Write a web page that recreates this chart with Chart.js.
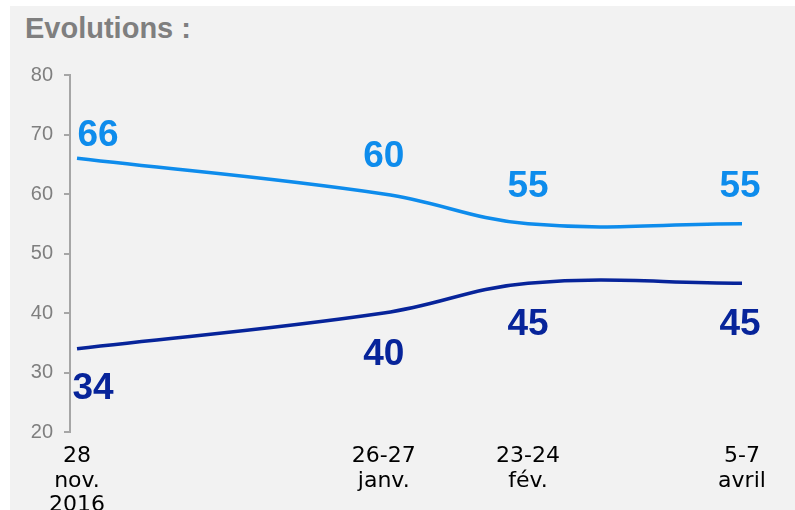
<!DOCTYPE html>
<html>
<head>
<meta charset="utf-8">
<script src="https://cdn.jsdelivr.net/npm/chart.js@4"></script>
<style>
  body { margin: 0; background: #fff; width: 795px; height: 510px; overflow: hidden; }
  #panel { position: absolute; left: 10px; top: 6px; width: 785px; height: 510px; background: #f2f2f2; overflow: hidden; }
  #title { position: absolute; left: 15px; top: 6px; font: bold 29px "Liberation Sans", Arial, sans-serif; color: #7f7f7f; }
  #chart { position: absolute; left: 0; top: 0; }
</style>
</head>
<body>
<div id="panel">
  <div id="title">Evolutions :</div>
  <canvas id="chart" width="785" height="504"></canvas>
</div>
<script>
// survey waves: labels and days since 28 nov. 2016
const waveLabels = [['28', 'nov.', '2016'], ['26-27', 'janv.'], ['23-24', 'fév.'], ['5-7', 'avril']];
const waveDays = [0, 59.5, 87.5, 129];
const upperSeries = [66, 60, 55, 55];
const lowerSeries = [34, 40, 45, 45];
const yTicks = [20, 30, 40, 50, 60, 70, 80];

const lightBlue = '#0e8cec';
const navy = '#07249a';

const toPoints = vals => vals.map((v, i) => ({ x: waveDays[i], y: v }));

// value labels above / below each point
const valueLabels = {
  id: 'valueLabels',
  afterDatasetsDraw(chart, args, opts) {
    const ctx = chart.ctx;
    ctx.save();
    ctx.font = 'bold 37px "Liberation Sans", Arial, sans-serif';
    ctx.textAlign = 'center';
    ctx.textBaseline = 'middle';
    chart.data.datasets.forEach((ds, di) => {
      const meta = chart.getDatasetMeta(di);
      const off = opts.offsets[di];
      ctx.fillStyle = ds.borderColor;
      meta.data.forEach((pt, i) => {
        const o = off[i] || off[off.length - 1];
        ctx.fillText(String(ds.data[i].y), pt.x + o[0], pt.y + o[1]);
      });
    });
    ctx.restore();
  }
};

new Chart(document.getElementById('chart'), {
  type: 'line',
  data: {
    datasets: [
      { data: toPoints(upperSeries), borderColor: lightBlue, borderWidth: 3.5, tension: 0.4, pointRadius: 0, fill: false },
      { data: toPoints(lowerSeries), borderColor: navy, borderWidth: 3.5, tension: 0.4, pointRadius: 0, fill: false }
    ]
  },
  options: {
    responsive: false,
    animation: false,
    layout: { padding: { left: 0, right: 53, top: 69, bottom: 0 } },
    plugins: {
      legend: { display: false },
      tooltip: { enabled: false },
      valueLabels: {
        offsets: [
          [[21, -23], [0, -37], [0, -37], [-2, -37]],
          [[16, 40], [0, 42], [0, 42], [-2, 42]]
        ]
      }
    },
    scales: {
      x: {
        type: 'linear',
        min: -1.36,
        max: 129,
        border: { display: false },
        grid: { display: false, drawTicks: false },
        afterBuildTicks: s => { s.ticks = waveDays.map(v => ({ value: v })); },
        afterFit: s => { s.height = 78; },
        ticks: {
          padding: 12,
          maxRotation: 0,
          autoSkip: false,
          color: '#000',
          font: { family: '"DejaVu Sans", Verdana, sans-serif', size: 22, lineHeight: 1.12 },
          callback: (v, i) => waveLabels[i]
        }
      },
      y: {
        min: 20,
        max: 80,
        afterBuildTicks: s => { s.ticks = yTicks.map(v => ({ value: v })); },
        afterFit: s => { s.width = 60; },
        border: { display: true, color: '#a6a6a6', width: 2 },
        grid: { drawOnChartArea: false, drawTicks: true, tickLength: 6, color: '#a6a6a6', lineWidth: 2 },
        ticks: {
          padding: 11,
          color: '#7f7f7f',
          font: { family: '"Liberation Sans", Arial, sans-serif', size: 20 }
        }
      }
    }
  },
  plugins: [valueLabels]
});
</script>
</body>
</html>
